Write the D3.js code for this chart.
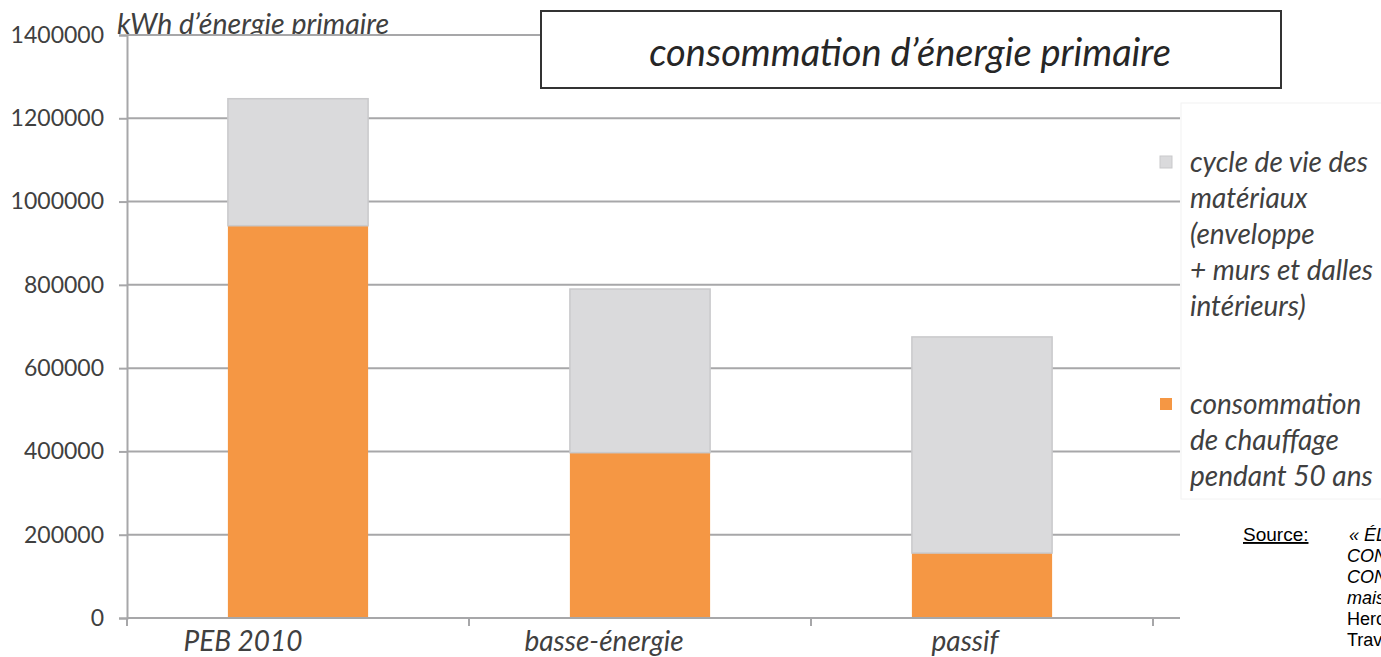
<!DOCTYPE html>
<html>
<head>
<meta charset="utf-8">
<script src="https://cdn.jsdelivr.net/npm/d3@7"></script>
<style>
  body { margin: 0; background: #fff; overflow: hidden; }
  svg { display: block; }
</style>
</head>
<body>
<div id="chart"></div>
<script>
const categories = ["PEB 2010", "basse-énergie", "passif"];
const chauffage = [942000, 397000, 156000];
const materiaux = [305000, 393000, 519000];
const yTicks = [0, 200000, 400000, 600000, 800000, 1000000, 1200000, 1400000];
const legendMateriaux = ["cycle de vie des", "matériaux", "(enveloppe", "+ murs et dalles", "intérieurs)"];
const legendChauffage = ["consommation", "de chauffage", "pendant 50 ans"];
const sourceLines = ["« ÉLÉMENTS DE", "CONCEPTION", "CONSTRUCTION", "maison passive", "Hercq", "Travail"];

const width = 1381, height = 657;
const mLeft = 127, mRight = 1153, mTop = 35, mBottom = 618;

const svg = d3.select("#chart").append("svg")
    .attr("width", width)
    .attr("height", height);

const data = categories.map((c, i) => ({ cat: c, chauffage: chauffage[i], materiaux: materiaux[i] }));

const x = d3.scaleBand()
    .domain(categories)
    .range([mLeft, mRight])
    .paddingInner(0.59)
    .paddingOuter(0.295);

const xLabel = d3.scalePoint()
    .domain(categories)
    .range([243, 965]);

const y = d3.scaleLinear()
    .domain([0, 1400000])
    .range([mBottom, mTop]);

// grille
svg.append("g")
    .selectAll("line")
    .data(yTicks.filter(d => d > 0))
    .join("line")
    .attr("x1", mLeft)
    .attr("x2", 1180)
    .attr("y1", d => y(d))
    .attr("y2", d => y(d))
    .attr("stroke", "#a7a7a9")
    .attr("stroke-width", 2);

// axe y
const yAxis = svg.append("g")
    .attr("transform", `translate(${mLeft},0)`)
    .call(d3.axisLeft(y).tickValues(yTicks).tickSize(8).tickPadding(15).tickFormat(d3.format("d")));
yAxis.select(".domain").attr("stroke", "#a7a7a9").attr("stroke-width", 2);
yAxis.selectAll(".tick line").attr("stroke", "#a7a7a9").attr("stroke-width", 2);
yAxis.selectAll(".tick text")
    .attr("fill", "#404040")
    .style("font-family", "Lato, 'Open Sans', sans-serif")
    .style("font-size", "23px");

// barres empilées
const stack = d3.stack().keys(["chauffage", "materiaux"]);
const series = stack(data);
const colors = { chauffage: "#f59744", materiaux: "#dadadc" };

svg.append("g")
    .selectAll("g")
    .data(series)
    .join("g")
    .attr("fill", d => colors[d.key])
    .attr("stroke", d => d.key === "materiaux" ? "#c9c9cb" : "none")
    .attr("stroke-width", 1.5)
    .selectAll("rect")
    .data(d => d)
    .join("rect")
    .attr("x", d => x(d.data.cat))
    .attr("width", x.bandwidth())
    .attr("y", d => y(d[1]))
    .attr("height", d => y(d[0]) - y(d[1]));

// axe x
const xAxis = svg.append("g").attr("transform", `translate(0,${mBottom})`);
xAxis.append("line")
    .attr("x1", mLeft).attr("x2", 1180)
    .attr("stroke", "#a7a7a9").attr("stroke-width", 2);
xAxis.selectAll("line.tick")
    .data(categories)
    .join("line")
    .attr("class", "tick")
    .attr("x1", d => x(d) + x.bandwidth() / 2 + x.step() / 2)
    .attr("x2", d => x(d) + x.bandwidth() / 2 + x.step() / 2)
    .attr("y1", 0).attr("y2", 8)
    .attr("stroke", "#a7a7a9").attr("stroke-width", 2);
xAxis.append("line")
    .attr("x1", mLeft).attr("x2", mLeft).attr("y1", 0).attr("y2", 8)
    .attr("stroke", "#a7a7a9").attr("stroke-width", 2);
xAxis.selectAll("text")
    .data(categories)
    .join("text")
    .attr("x", d => xLabel(d))
    .attr("y", 33)
    .attr("text-anchor", "middle")
    .attr("fill", "#404040")
    .style("font-family", "Lato, 'Open Sans', sans-serif")
    .style("font-style", "italic")
    .style("font-size", "28px")
    .text(d => d);

// titre axe y (coupé par la grille)
svg.append("clipPath").attr("id", "clipY")
    .append("rect").attr("x", 0).attr("y", 0).attr("width", 500).attr("height", 35);
svg.append("text")
    .attr("clip-path", "url(#clipY)")
    .attr("x", 117)
    .attr("y", 34)
    .attr("fill", "#404040")
    .style("font-family", "Lato, 'Open Sans', sans-serif")
    .style("font-style", "italic")
    .style("font-size", "28.5px")
    .text("kWh d’énergie primaire");
svg.append("line")
    .attr("x1", mLeft).attr("x2", 541)
    .attr("y1", y(1400000)).attr("y2", y(1400000))
    .attr("stroke", "#a7a7a9").attr("stroke-width", 2);

// encadré titre
svg.append("rect")
    .attr("x", 541).attr("y", 11)
    .attr("width", 740).attr("height", 77)
    .attr("fill", "#fff")
    .attr("stroke", "#333").attr("stroke-width", 2);
svg.append("text")
    .attr("x", 910).attr("y", 66)
    .attr("text-anchor", "middle")
    .attr("fill", "#262626")
    .style("font-family", "Lato, 'Open Sans', sans-serif")
    .style("font-style", "italic")
    .style("font-size", "38px")
    .text("consommation d’énergie primaire");

// légende
const legend = svg.append("g");
legend.append("rect")
    .attr("x", 1181).attr("y", 103)
    .attr("width", 210).attr("height", 396)
    .attr("fill", "#fff")
    .attr("stroke", "#f2f2f2");

const legendItems = [
    { key: "materiaux", lines: legendMateriaux, y0: 162 },
    { key: "chauffage", lines: legendChauffage, y0: 404 }
];
legendItems.forEach(item => {
    legend.append("rect")
        .attr("x", 1160).attr("y", item.y0 - 6)
        .attr("width", 12).attr("height", 12)
        .attr("fill", colors[item.key])
        .attr("stroke", item.key === "materiaux" ? "#c9c9cb" : "none");
    legend.append("g")
        .selectAll("text")
        .data(item.lines)
        .join("text")
        .attr("x", 1190)
        .attr("y", (d, i) => item.y0 + i * 36)
        .attr("dy", "0.35em")
        .attr("fill", "#404040")
        .style("font-family", "Lato, 'Open Sans', sans-serif")
        .style("font-style", "italic")
        .style("font-size", "28px")
        .text(d => d);
});

// source
svg.append("text")
    .attr("x", 1243).attr("y", 541)
    .attr("fill", "#000")
    .attr("text-decoration", "underline")
    .style("font-family", "'Liberation Sans', Arial, sans-serif")
    .style("font-size", "19px")
    .text("Source:");
svg.append("g")
    .selectAll("text")
    .data(sourceLines)
    .join("text")
    .attr("x", (d, i) => i === 0 ? 1349 : 1347)
    .attr("y", (d, i) => 541 + i * 21)
    .attr("fill", "#000")
    .style("font-family", "'Liberation Sans', Arial, sans-serif")
    .style("font-style", (d, i) => i < 4 ? "italic" : "normal")
    .style("font-size", "18px")
    .text(d => d);
</script>
</body>
</html>
